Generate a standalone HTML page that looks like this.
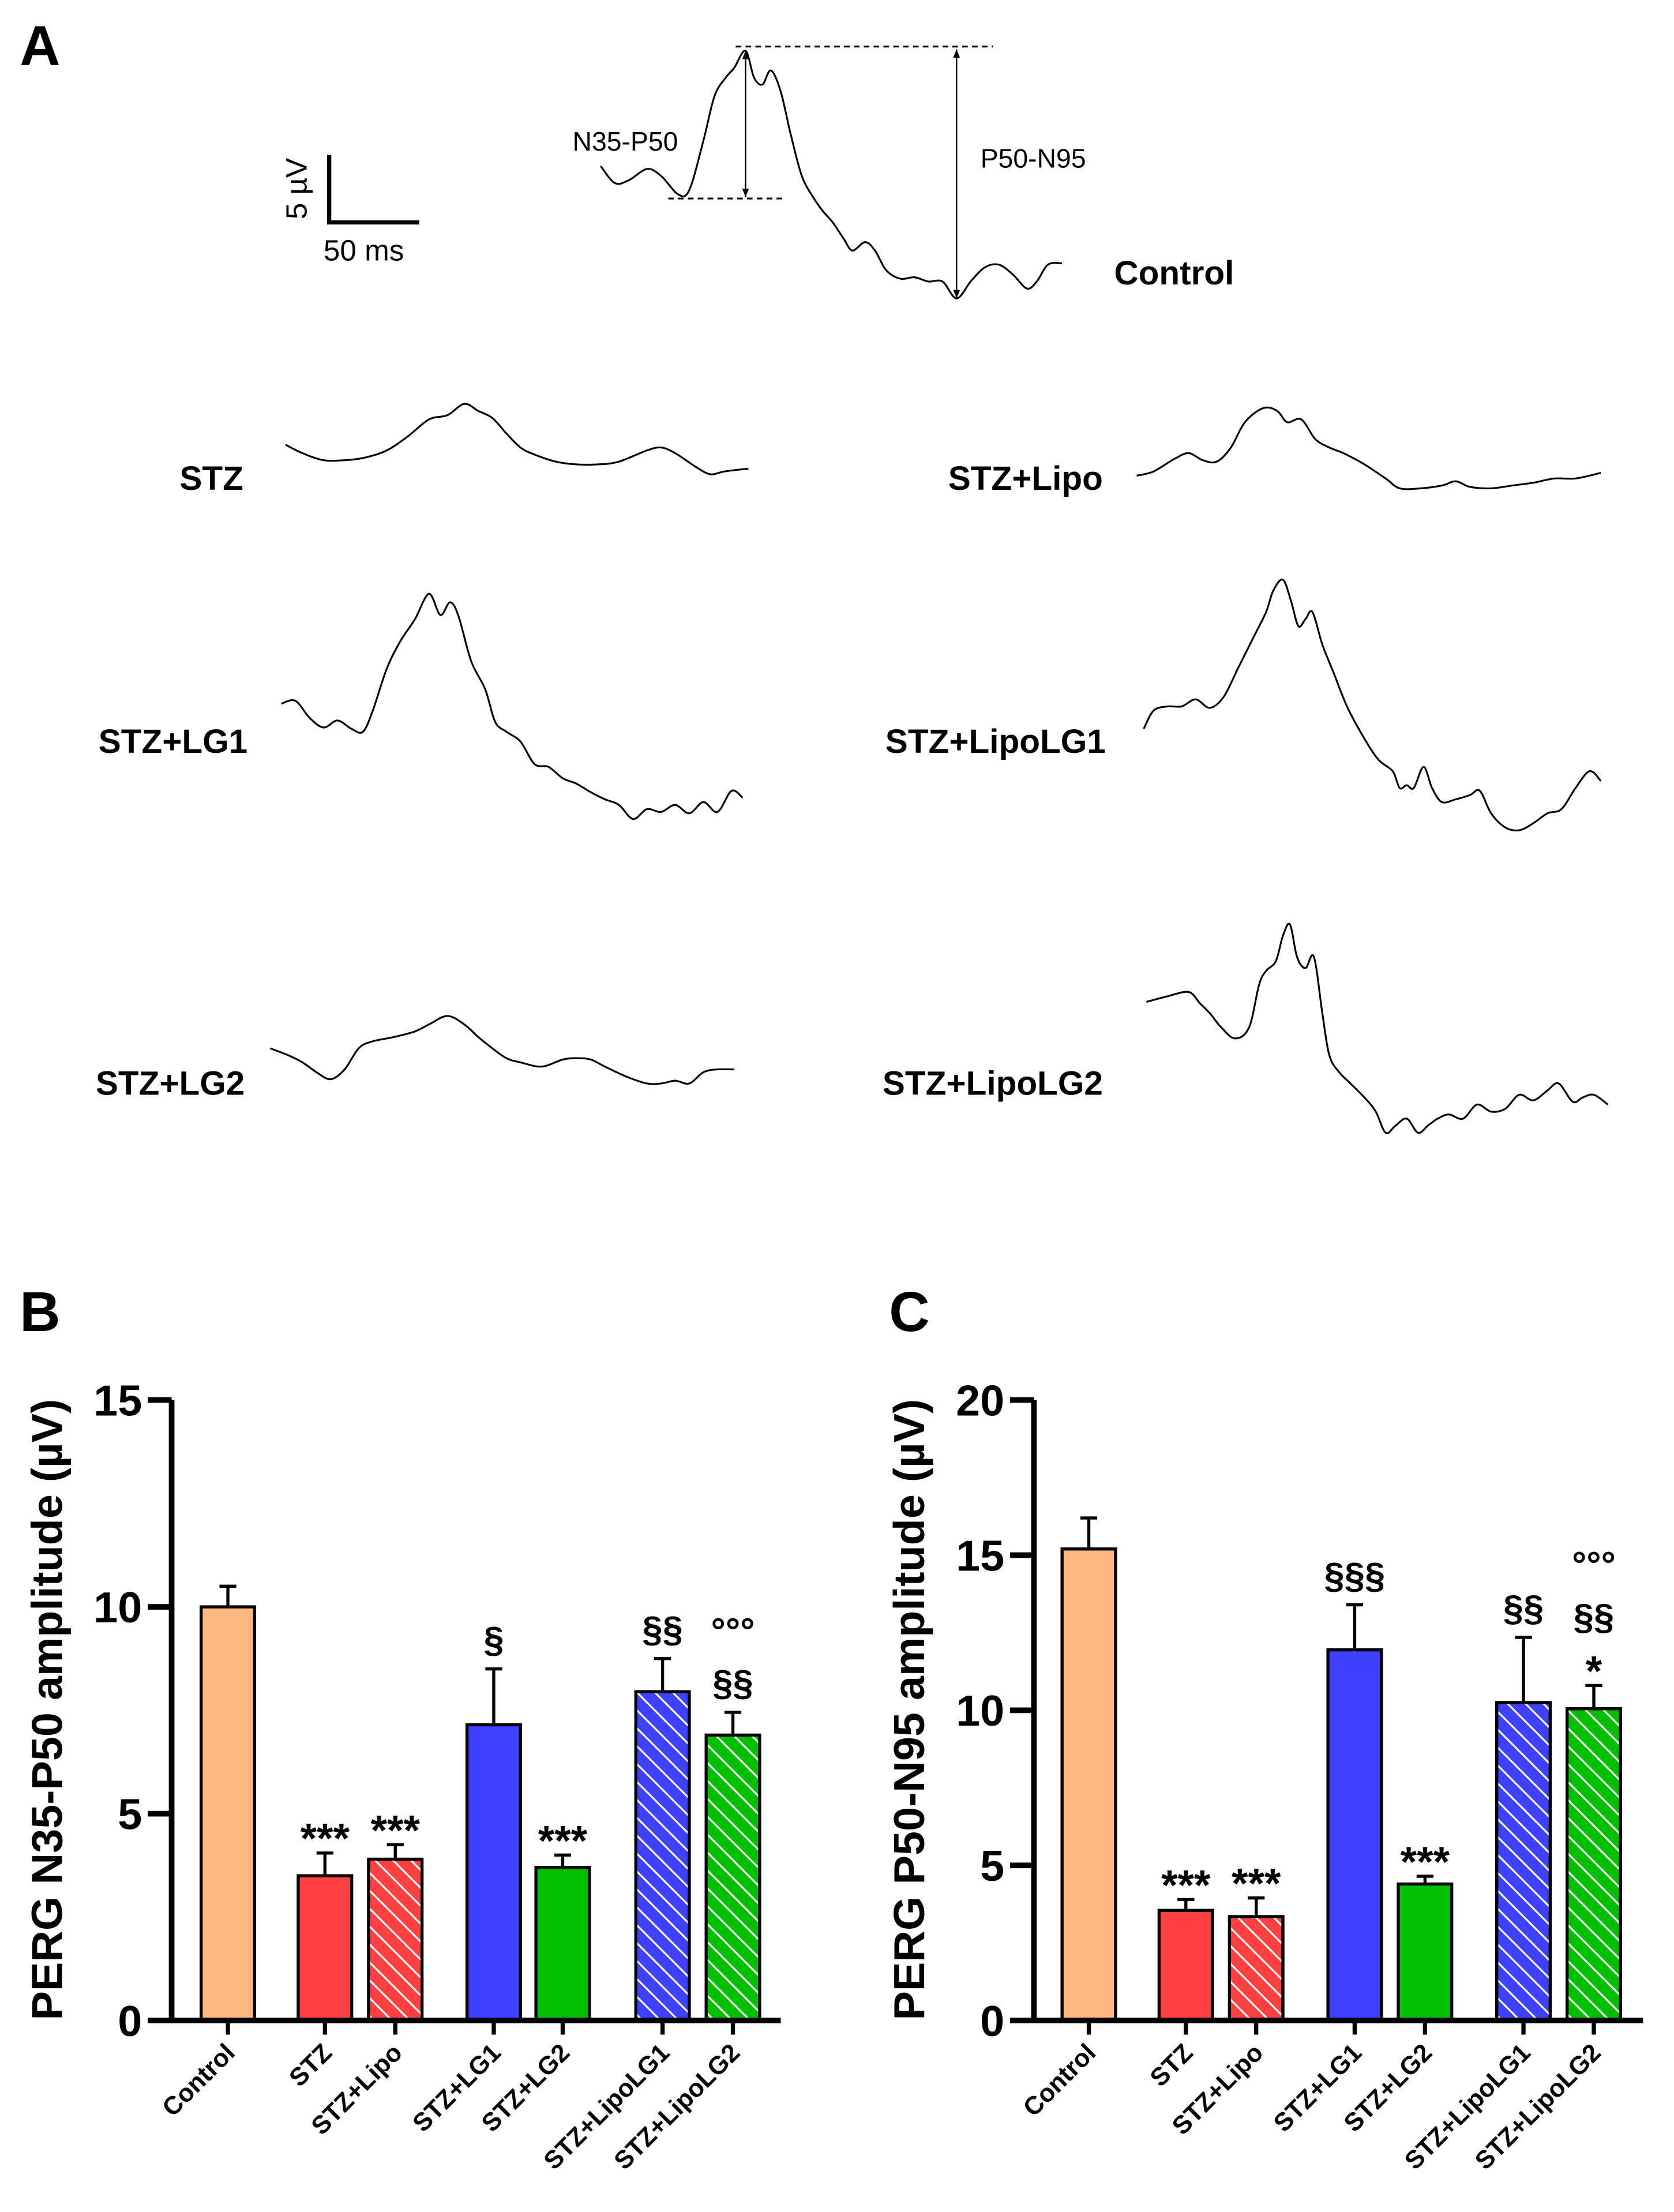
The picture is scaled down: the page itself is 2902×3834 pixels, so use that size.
<!DOCTYPE html>
<html><head><meta charset="utf-8"><style>html,body{margin:0;padding:0;background:#fff}svg{display:block}text{font-family:"Liberation Sans",Arial,sans-serif}</style></head>
<body>
<svg id="fig" width="2902" height="3834" viewBox="0 0 1190 1572" xmlns="http://www.w3.org/2000/svg">
<defs>
<pattern id="hatch" patternUnits="userSpaceOnUse" width="9" height="9" patternTransform="rotate(-45)"><rect width="9" height="9" fill="transparent"/><line x1="0" y1="0" x2="0" y2="9" stroke="#fff" stroke-width="2.6"/></pattern>
<marker id="arr" viewBox="0 0 10 10" refX="10" refY="5" markerWidth="6" markerHeight="6" orient="auto-start-reverse"><path d="M0,1 L10,5 L0,9 z" fill="#000"/></marker>
</defs>
<g id="panelA"></g>
<g id="panelB"></g>
<g id="panelC"></g>
</svg>
<script>
const NS="http://www.w3.org/2000/svg";
function mk(parent,tag,attrs,txt){const e=document.createElementNS(NS,tag);for(const k in attrs)e.setAttribute(k,attrs[k]);if(txt!==undefined)e.textContent=txt;parent.appendChild(e);return e;}

/* ---------- Panel A traces ---------- */
const traceControl=[[427,118],[437,130],[447,128],[460,120],[470,125],[482,138],[490,135],[500,100],[508,68],[516,55],[522,48],[530,36],[536,55],[542,60],[548,50],[555,65],[562,95],[570,125],[578,140],[585,150],[592,158],[600,170],[606,178],[615,172],[622,178],[630,192],[640,198],[650,197],[660,200],[670,200],[680,212],[690,200],[700,190],[710,188],[720,195],[730,205],[737,200],[745,188],[755,187]];
const traceSTZ=[[203,316],[215,322],[230,327],[245,327],[260,325],[275,320],[290,310],[305,298],[318,295],[330,287],[340,292],[350,297],[360,308],[370,318],[380,323],[395,328],[410,330],[425,330],[440,328],[460,320],[470,318],[480,322],[495,332],[505,337],[515,335],[532,333]];
const traceLipo=[[808,338],[820,335],[835,326],[845,322],[855,327],[865,328],[875,318],[885,300],[898,290],[908,292],[915,300],[925,298],[935,312],[945,318],[955,322],[970,330],[985,340],[995,347],[1010,347],[1025,345],[1035,342],[1045,346],[1060,347],[1075,345],[1090,343],[1105,340],[1120,340],[1138,336]];
const traceLG1=[[200,500],[210,498],[220,510],[230,517],[240,512],[250,518],[258,520],[265,505],[275,475],[285,455],[295,440],[305,422],[313,437],[320,428],[326,438],[335,470],[345,490],[352,513],[360,520],[370,527],[380,543],[390,545],[400,553],[410,557],[420,563],[430,568],[440,572],[450,582],[460,575],[470,577],[480,572],[490,578],[500,570],[510,577],[520,562],[528,567]];
const traceLipoLG1=[[813,518],[820,505],[830,502],[840,502],[850,497],[860,503],[870,495],[880,475],[890,455],[900,435],[905,420],[912,412],[918,428],[923,445],[928,440],[933,435],[940,458],[948,478],[958,503],[970,525],[980,540],[990,548],[995,560],[1000,558],[1005,560],[1012,545],[1018,560],[1025,570],[1035,568],[1045,565],[1052,562],[1060,578],[1070,588],[1080,590],[1090,585],[1100,578],[1110,575],[1120,560],[1130,548],[1138,555]];
const traceLG2=[[192,745],[205,750],[215,755],[225,762],[235,767],[245,760],[255,745],[265,740],[280,737],[295,733],[305,728],[318,722],[330,728],[340,737],[350,745],[360,752],[370,755],[385,758],[400,753],[410,752],[420,753],[430,758],[445,765],[460,770],[470,770],[480,768],[490,770],[500,762],[510,760],[522,760]];
const traceLipoLG2=[[815,712],[830,708],[845,705],[853,713],[860,720],[868,730],[878,738],[888,730],[895,700],[900,690],[907,683],[912,665],[917,657],[922,680],[928,688],[934,680],[940,720],[945,750],[952,762],[960,770],[970,780],[978,790],[985,805],[992,800],[1000,795],[1008,805],[1015,800],[1022,795],[1030,792],[1040,795],[1050,785],[1060,790],[1070,788],[1080,778],[1090,782],[1100,775],[1108,770],[1118,783],[1125,780],[1133,778],[1143,785]];

const A=document.getElementById('panelA');
function smooth(pts){let d='M'+pts[0][0]+','+pts[0][1];for(let i=1;i<pts.length;i++){const p0=pts[i-2]||pts[i-1],p1=pts[i-1],p2=pts[i],p3=pts[i+1]||p2;const c1x=p1[0]+(p2[0]-p0[0])/6,c1y=p1[1]+(p2[1]-p0[1])/6,c2x=p2[0]-(p3[0]-p1[0])/6,c2y=p2[1]-(p3[1]-p1[1])/6;d+=` C${c1x.toFixed(1)},${c1y.toFixed(1)} ${c2x.toFixed(1)},${c2y.toFixed(1)} ${p2[0]},${p2[1]}`;}return d;}
const traces=[['trace-control',traceControl],['trace-stz',traceSTZ],['trace-stz-lipo',traceLipo],['trace-stz-lg1',traceLG1],['trace-stz-lipolg1',traceLipoLG1],['trace-stz-lg2',traceLG2],['trace-stz-lipolg2',traceLipoLG2]];
traces.forEach(t=>{const p=mk(A,'path',{d:smooth(t[1]),fill:'none',stroke:'#000','stroke-width':1.3,'stroke-linejoin':'round'});

});

const lblA=[['Control',792,202,'start'],['STZ',173,348,'end'],['STZ+Lipo',784,348,'end'],['STZ+LG1',176,535,'end'],['STZ+LipoLG1',786,535,'end'],['STZ+LG2',174,778,'end'],['STZ+LipoLG2',784,778,'end']];
lblA.forEach(l=>{const t=mk(A,'text',{x:l[1],y:l[2],'text-anchor':l[3],'font-size':24,'font-weight':'bold'},l[0]);

});
let e;
e=mk(A,'text',{x:14,y:46,'font-size':40,'font-weight':'bold'},'A');
e=mk(A,'path',{d:'M234,110 V158 H298',fill:'none',stroke:'#000','stroke-width':3});
e=mk(A,'text',{x:0,y:0,'font-size':21,transform:'translate(218,134) rotate(-90)','text-anchor':'middle'},'5 µV');
e=mk(A,'text',{x:230,y:185,'font-size':21},'50 ms');
e=mk(A,'line',{x1:523,y1:33,x2:706,y2:33,stroke:'#000','stroke-width':1.3,'stroke-dasharray':'4,3'});
e=mk(A,'line',{x1:475,y1:141,x2:558,y2:141,stroke:'#000','stroke-width':1.3,'stroke-dasharray':'4,3'});
e=mk(A,'line',{x1:530,y1:36,x2:530,y2:140,stroke:'#000','stroke-width':1,'marker-start':'url(#arr)','marker-end':'url(#arr)'});
e=mk(A,'line',{x1:680,y1:35,x2:680,y2:212,stroke:'#000','stroke-width':1,'marker-start':'url(#arr)','marker-end':'url(#arr)'});
e=mk(A,'text',{x:407,y:107,'font-size':19},'N35-P50');
e=mk(A,'text',{x:697,y:119,'font-size':19},'P50-N95');

/* ---------- Bar charts ---------- */
const categories=['Control','STZ','STZ+Lipo','STZ+LG1','STZ+LG2','STZ+LipoLG1','STZ+LipoLG2'];
const colors=['#fdb97d','#ff4040','#ff4040','#4040ff','#00c000','#4040ff','#00c000'];
const hatched=[false,false,true,false,false,true,true];
const valuesB=[10.0,3.5,3.9,7.15,3.7,7.95,6.9];
const errorsB=[0.5,0.55,0.35,1.35,0.3,0.8,0.55];
const ticksB=[0,5,10,15];
const annotB=[[],['***'],['***'],['§'],['***'],['§§'],['§§','°°°']];
const valuesC=[15.2,3.55,3.35,11.95,4.4,10.25,10.05];
const errorsC=[1.0,0.35,0.6,1.45,0.25,2.1,0.75];
const ticksC=[0,5,10,15,20];
const annotC=[[],['***'],['***'],['§§§'],['***'],['§§'],['*','§§','°°°']];

function chart(g,axX,xs,ymax,vals,errs,ticks,annot,title,letter,letterX){
  const y0=1436,yTop=995;
  const ys=v=>y0-(v/ymax)*(y0-yTop);
  const bw=38;
  let t=mk(g,'text',{x:letterX,y:946,'font-size':40,'font-weight':'bold'},letter);
  
  
  vals.forEach((v,i)=>{
    const x=xs[i]-bw/2;
    const r=mk(g,'rect',{x:x,y:ys(v),width:bw,height:y0-ys(v),fill:colors[i],stroke:'#000','stroke-width':2.2});
    
    
    if(hatched[i]){const h=mk(g,'rect',{x:x+1.1,y:ys(v)+1.1,width:bw-2.2,height:y0-ys(v)-2.2,fill:'url(#hatch)'});
      
      }
    const eb=mk(g,'path',{d:`M${xs[i]},${ys(v)} V${ys(v+errs[i])} M${xs[i]-6},${ys(v+errs[i])} H${xs[i]+6}`,stroke:'#000','stroke-width':2.2,fill:'none'});
    
    
    let ay=ys(v+errs[i])-12;
    annot[i].forEach(s=>{
      const isStar=s.indexOf('*')>=0;
      const a=mk(g,'text',{x:xs[i],y:ay+(isStar?12:0),'text-anchor':'middle','font-size':isStar?30:26,'font-weight':'bold'},s);
      
      
      ay-=isStar?28:37;
    });
    const tk=mk(g,'line',{x1:xs[i],y1:y0,x2:xs[i],y2:y0+10,stroke:'#000','stroke-width':3});
    
    
    const lb=mk(g,'text',{x:0,y:0,'text-anchor':'end','font-size':18,'font-weight':'bold',transform:`translate(${xs[i]+6},${y0+24}) rotate(-45)`},categories[i]);
    
    
  });
  const ax=mk(g,'path',{d:`M${axX},${yTop} V${y0} H${axX+433}`,stroke:'#000','stroke-width':4,fill:'none'});
  
  
  ticks.forEach(tv=>{
    const l=mk(g,'line',{x1:axX-17,y1:ys(tv),x2:axX,y2:ys(tv),stroke:'#000','stroke-width':4});
    
    
    const tl=mk(g,'text',{x:axX-21,y:ys(tv)+11,'text-anchor':'end','font-size':31,'font-weight':'bold'},String(tv));
    
    
  });
  const yt=mk(g,'text',{x:0,y:0,'text-anchor':'middle','font-size':31,'font-weight':'bold',transform:`translate(${axX-78},1215) rotate(-90)`},title);
  
  
}
chart(document.getElementById('panelB'),122,[162,231,281,351,400,471,521],15,valuesB,errorsB,ticksB,annotB,'PERG N35-P50 amplitude (µV)','B',14);
chart(document.getElementById('panelC'),735,[774,843,893,963,1013,1083,1133],20,valuesC,errorsC,ticksC,annotC,'PERG P50-N95 amplitude (µV)','C',632);
</script>
</body></html>
